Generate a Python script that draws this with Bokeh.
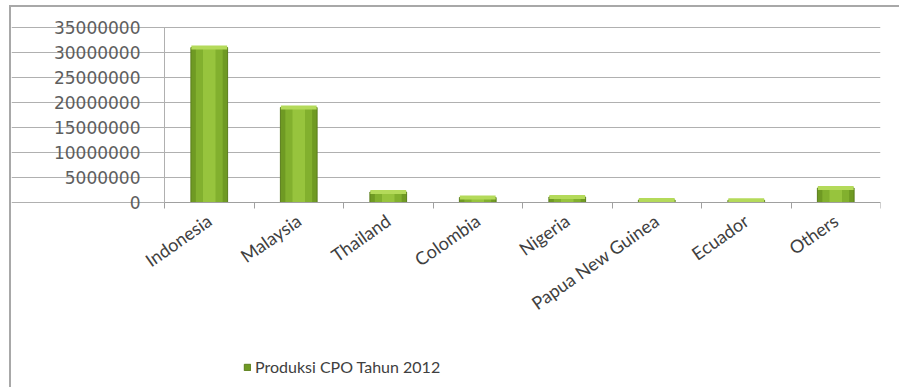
import math
from bokeh.plotting import figure
from bokeh.models import (Range1d, FixedTicker, BasicTickFormatter, Legend, LegendItem,
                          ColumnDataSource)
from bokeh.embed import file_html
from bokeh.resources import INLINE

countries = ["Indonesia", "Malaysia", "Thailand", "Colombia", "Nigeria",
             "Papua New Guinea", "Ecuador", "Others"]
production = [31000000, 19000000, 2100000, 1000000, 1100000, 500000, 450000, 2900000]
y_ticks = [0, 5000000, 10000000, 15000000, 20000000, 25000000, 30000000, 35000000]
series_name = "Produksi CPO Tahun 2012"

n = len(countries)
positions = list(range(1, n + 1))
boundaries = [i + 0.5 for i in range(n + 1)]
src = ColumnDataSource(dict(x=positions, top=production, name=countries))

# layout (pixels): the frame covers the whole canvas; the chart's plotting
# area is 716 x 175 px, with 153 px on its left for the value labels, 20 px
# above it and 187 px below it for the category labels and the legend
AREA_W, AREA_H, LEFT_PAD, TOP_PAD, BOTTOM_PAD = 716, 175, 153, 20, 187
y_max = y_ticks[-1]
y_lo = -y_max * BOTTOM_PAD / AREA_H
y_hi = y_max + y_max * TOP_PAD / AREA_H
x_lo, x_hi = 0.5, n + 0.5
x_start = x_lo - (x_hi - x_lo) * LEFT_PAD / AREA_W

p = figure(width=890, height=382, output_backend="svg", toolbar_location=None,
           x_range=Range1d(x_start, x_hi), y_range=Range1d(y_lo, y_hi),
           min_border_left=0, min_border_right=21, min_border_top=0, min_border_bottom=0,
           background_fill_color="white", border_fill_color="white")
p.outline_line_color = None
p.styles = {"margin-left": "9px", "margin-top": "5px",
            "border-left": "2px solid #a8a8a8", "border-top": "2px solid #a8a8a8"}

# bars (cylinder-like shading)
r_main = p.vbar(x="x", top="top", width=0.41, source=src,
                fill_color="#6f9a23", line_color="#5a7d1b", line_width=1)
p.vbar(x="x", top="top", width=0.30, source=src, fill_color="#82b02e", line_color=None)
p.vbar(x="x", top="top", width=0.14, source=src, fill_color="#97c43d", line_color=None)
p.rect(x="x", y="top", width=0.40, height=4, height_units="screen", source=src,
       fill_color="#b4da5a", line_color=None)

# grid
p.xgrid.visible = False
p.ygrid.ticker = FixedTicker(ticks=y_ticks)
p.ygrid.bounds = (x_lo, x_hi)
p.ygrid.grid_line_color = "#b0b0b0"
p.ygrid.grid_line_width = 1

# y axis, drawn at the left edge of the plotting area
p.yaxis.fixed_location = x_lo
p.yaxis.ticker = FixedTicker(ticks=y_ticks)
p.yaxis.bounds = (0, y_max)
p.yaxis.formatter = BasicTickFormatter(use_scientific=False)
p.yaxis.axis_line_color = "#b0b0b0"
p.yaxis.major_tick_line_color = "#b0b0b0"
p.yaxis.major_tick_out = 8
p.yaxis.major_tick_in = 0
p.yaxis.minor_tick_line_color = None
p.yaxis.major_label_standoff = 16
p.yaxis.major_label_text_font = "DejaVu Sans"
p.yaxis.major_label_text_font_size = "17px"
p.yaxis.major_label_text_color = "#5e5e5e"

# x axis, drawn at value 0
p.xaxis.fixed_location = 0
p.xaxis.bounds = (x_lo, x_hi)
p.xaxis.ticker = FixedTicker(ticks=positions, minor_ticks=boundaries)
p.xaxis.major_label_overrides = {pos: name for pos, name in zip(positions, countries)}
p.xaxis.major_label_orientation = math.radians(35)
p.xaxis.major_tick_line_color = None
p.xaxis.major_tick_out = 0
p.xaxis.major_tick_in = 0
p.xaxis.minor_tick_line_color = "#a0a0a0"
p.xaxis.minor_tick_out = 6
p.xaxis.minor_tick_in = 0
p.xaxis.axis_line_color = "#a0a0a0"
p.xaxis.major_label_standoff = 10
p.xaxis.major_label_text_font = "Lato"
p.xaxis.major_label_text_font_size = "18px"
p.xaxis.major_label_text_color = "#404040"

# legend
legend = Legend(items=[LegendItem(label=series_name, renderers=[r_main])],
                location=(232, 13), orientation="horizontal",
                glyph_width=8, glyph_height=8, label_standoff=4, padding=0, margin=0,
                spacing=0, label_height=16,
                border_line_color=None, background_fill_alpha=0,
                label_text_font="Lato", label_text_font_size="16px",
                label_text_color="#404040")
p.add_layout(legend)

open("out.html", "w").write(file_html(p, INLINE))
